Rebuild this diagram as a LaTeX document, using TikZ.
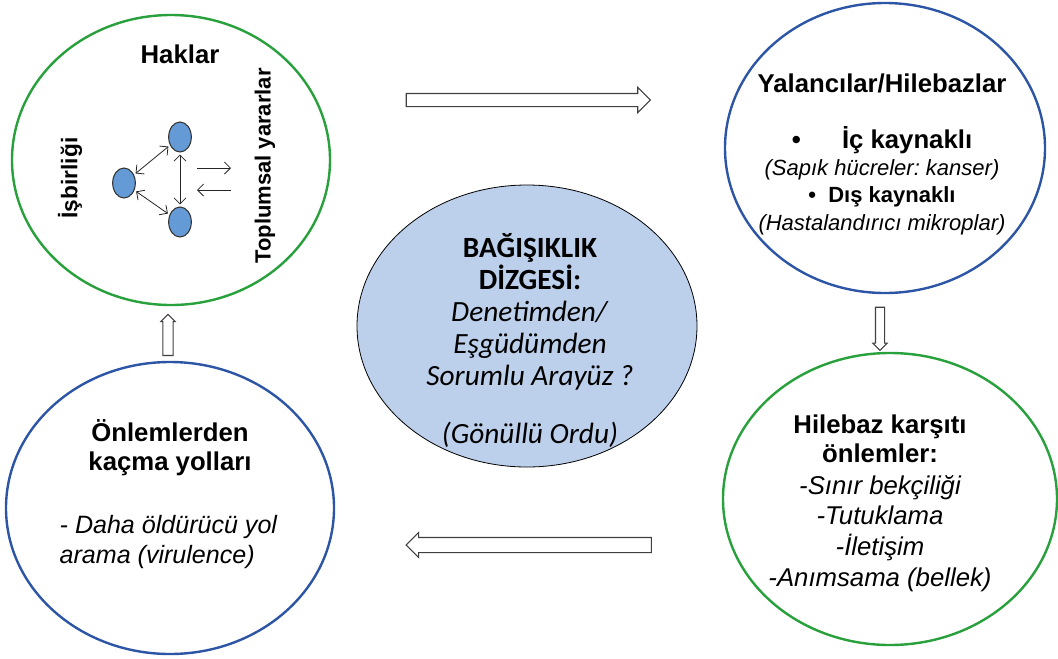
\documentclass[tikz,border=0pt]{standalone}
\usepackage{fontspec}
\setmainfont{Liberation Sans}
\newfontfamily\corefont{Carlito}
\usetikzlibrary{shapes.geometric,shapes.arrows,arrows.meta}
\definecolor{ringgreen}{RGB}{40,160,60}
\definecolor{ringblue}{RGB}{45,85,165}
\definecolor{corefill}{RGB}{188,207,235}
\definecolor{cellfill}{RGB}{100,155,215}
\frenchspacing

\begin{document}
\begin{tikzpicture}[x=0.75pt, y=-0.75pt,
    >={Straight Barb[length=4.5pt,width=9pt]},
    ring/.style={ellipse, draw=#1, line width=1.8pt, inner sep=0pt},
    core/.style={ellipse, draw=black, line width=0.6pt, fill=corefill, inner sep=0pt},
    cell/.style={ellipse, draw=black!80, line width=0.8pt, fill=cellfill,
        minimum width=17pt, minimum height=22.5pt, inner sep=0pt},
    link/.style={<->, line width=0.6pt, black!85, shorten <=1.5pt, shorten >=1.5pt},
    flow/.style={->, line width=0.6pt, black!85},
    bigarrow/.style={single arrow, draw=black!75, fill=white, line width=0.8pt,
        single arrow head indent=0pt},
    head/.style={font=\bfseries\fontsize{19.3}{21.5}\selectfont, align=center, anchor=base},
    side/.style={font=\bfseries\fontsize{16.5}{20}\selectfont, rotate=90},
    note/.style={font=\itshape\fontsize{18.8}{22.5}\selectfont, align=left, anchor=base west},
    list/.style={font=\itshape\fontsize{19.3}{23}\selectfont, align=center, anchor=base},
    coretext/.style={font=\corefont\fontsize{22}{24}\selectfont, align=center, anchor=base}
]
    \useasboundingbox (0,0) rectangle (1058,658);

    \node[ring=ringgreen, minimum width=238.5pt, minimum height=217.5pt] (rights) at (171,160) {};
    \node[ring=ringblue, minimum width=240pt, minimum height=217.5pt] (cheats) at (885,148) {};
    \node[core, minimum width=255pt, minimum height=211.5pt] (immune) at (527,326) {};
    \node[ring=ringblue, minimum width=246pt, minimum height=219pt] (escape) at (170,508) {};
    \node[ring=ringgreen, minimum width=250.5pt, minimum height=219pt] (counter) at (890,499) {};

    \node[bigarrow, minimum height=183pt, inner sep=4.5pt, single arrow head extend=4.5pt] (toright) at (525,100) {};
    \node[bigarrow, minimum height=184pt, inner sep=5.25pt, single arrow head extend=3.75pt,
        shape border rotate=180] (toleft) at (532.5,545) {};
    \node[bigarrow, minimum height=30.75pt, inner sep=3.4pt, single arrow head extend=1.5pt,
        shape border rotate=90] (toup) at (168,337.5) {};
    \node[bigarrow, minimum height=32.25pt, inner sep=3pt, single arrow head extend=1.9pt,
        shape border rotate=270] (todown) at (880,326.5) {};

    \node[head] (haklar) at (180,63) {Haklar};
    \node[side, font=\bfseries\fontsize{17}{20}\selectfont] (isbirligi) at (70,178) {İşbirliği};
    \node[side] (yararlar) at (265,166) {Toplumsal yararlar};
    \node[cell] (ctop) at (180,137) {};
    \node[cell] (cleft) at (124,183) {};
    \node[cell] (cbot) at (180,222) {};
    \draw[link] (cleft) -- (ctop);
    \draw[link] (cleft) -- (cbot);
    \draw[link] (ctop) -- (cbot);
    \coordinate (outa) at (197,168);
    \coordinate (outb) at (231,168);
    \coordinate (ina) at (231,190);
    \coordinate (inb) at (197,190);
    \draw[flow] (outa) -- (outb);
    \draw[flow] (ina) -- (inb);

    \node[head] (liars) at (882,92) {Yalancılar/Hilebazlar};
    \node[align=center, anchor=base, font=\fontsize{16.5}{20.5}\selectfont] (sources) at (882,230)
        {{\bfseries\fontsize{19.3}{20.5}\selectfont\textbullet\hspace{1.6em}İç kaynaklı}\\
         {\itshape (Sapık hücreler: kanser)}\\
         {\bfseries\textbullet\ \ Dış kaynaklı}\\
         {\itshape (Hastalandırıcı mikroplar)}};

    \node[coretext] (coretxt) at (530,443)
        {\textbf{BAĞIŞIKLIK}\\ \textbf{DİZGESİ:}\\ \textit{Denetimden/}\\ \textit{Eşgüdümden}\\
         \textit{Sorumlu Arayüz ?}\\[19pt] \textit{(Gönüllü Ordu)}};

    \node[head] (escapetitle) at (170,470) {Önlemlerden\\kaçma yolları};
    \node[note] (virulence) at (55,563) {- Daha öldürücü yol\\arama (virulence)};

    \node[head] (countertitle) at (880,462) {Hilebaz karşıtı\\önlemler:};
    \node[list] (measures) at (880,586) {-Sınır bekçiliği\\-Tutuklama\\-İletişim\\-Anımsama (bellek)};
\end{tikzpicture}
\end{document}
